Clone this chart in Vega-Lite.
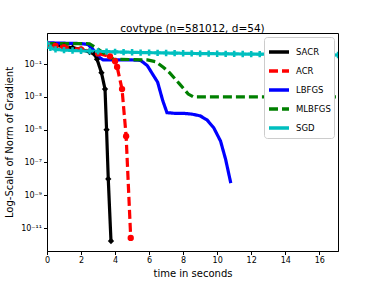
{
  "$schema": "https://vega.github.io/schema/vega-lite/v6.json",
  "width": 291,
  "height": 218,
  "autosize": "none",
  "padding": {"left": 47, "top": 33, "right": 38, "bottom": 31},
  "background": "white",
  "config": {
    "font": "DejaVu Sans",
    "view": {"stroke": "#000", "strokeWidth": 1},
    "axis": {"grid": false, "domainColor": "#000", "tickColor": "#000", "labelColor": "#000", "titleColor": "#000", "labelFontSize": 8, "titleFontSize": 10, "titleFontWeight": "normal", "tickSize": 3.5}
  },
  "title": {"text": "covtype (n=581012, d=54)", "fontSize": 10.5, "fontWeight": "normal", "color": "#000", "offset": -1},
  "data": {"values": [
    {"series": "SACR", "t": 0, "g": 1.7}, {"series": "SACR", "t": 0.5, "g": 1.4}, {"series": "SACR", "t": 1, "g": 1.2}, {"series": "SACR", "t": 1.5, "g": 1.0}, {"series": "SACR", "t": 2, "g": 0.8}, {"series": "SACR", "t": 2.5, "g": 0.55}, {"series": "SACR", "t": 2.8, "g": 0.4}, {"series": "SACR", "t": 2.94, "g": 0.2}, {"series": "SACR", "t": 3.2, "g": 0.03}, {"series": "SACR", "t": 3.41, "g": 0.003}, {"series": "SACR", "t": 3.5, "g": 1e-5}, {"series": "SACR", "t": 3.6, "g": 1e-8}, {"series": "SACR", "t": 3.76, "g": 1.6e-12},
    {"series": "ACR", "t": 0, "g": 1.6}, {"series": "ACR", "t": 0.5, "g": 1.3}, {"series": "ACR", "t": 1, "g": 1.1}, {"series": "ACR", "t": 2, "g": 0.8}, {"series": "ACR", "t": 3, "g": 0.45}, {"series": "ACR", "t": 3.7, "g": 0.3}, {"series": "ACR", "t": 4.0, "g": 0.15}, {"series": "ACR", "t": 4.12, "g": 0.068}, {"series": "ACR", "t": 4.41, "g": 0.003}, {"series": "ACR", "t": 4.65, "g": 4e-6}, {"series": "ACR", "t": 4.92, "g": 2.5e-12},
    {"series": "LBFGS", "t": 0, "g": 2.0}, {"series": "LBFGS", "t": 1, "g": 1.9}, {"series": "LBFGS", "t": 2, "g": 1.8}, {"series": "LBFGS", "t": 2.4, "g": 1.6}, {"series": "LBFGS", "t": 2.7, "g": 0.8}, {"series": "LBFGS", "t": 3.0, "g": 0.3}, {"series": "LBFGS", "t": 3.3, "g": 0.18}, {"series": "LBFGS", "t": 4, "g": 0.18}, {"series": "LBFGS", "t": 5, "g": 0.18}, {"series": "LBFGS", "t": 5.5, "g": 0.17}, {"series": "LBFGS", "t": 5.9, "g": 0.08}, {"series": "LBFGS", "t": 6.2, "g": 0.025}, {"series": "LBFGS", "t": 6.5, "g": 0.008}, {"series": "LBFGS", "t": 6.8, "g": 0.0006}, {"series": "LBFGS", "t": 7.05, "g": 1.1e-4}, {"series": "LBFGS", "t": 7.5, "g": 1e-4}, {"series": "LBFGS", "t": 8, "g": 1e-4}, {"series": "LBFGS", "t": 8.5, "g": 9e-5}, {"series": "LBFGS", "t": 9.0, "g": 7e-5}, {"series": "LBFGS", "t": 9.4, "g": 4e-5}, {"series": "LBFGS", "t": 9.8, "g": 1.3e-5}, {"series": "LBFGS", "t": 10.2, "g": 2e-6}, {"series": "LBFGS", "t": 10.5, "g": 1.5e-7}, {"series": "LBFGS", "t": 10.8, "g": 5.5e-9},
    {"series": "MLBFGS", "t": 0, "g": 1.8}, {"series": "MLBFGS", "t": 1, "g": 1.8}, {"series": "MLBFGS", "t": 2, "g": 1.8}, {"series": "MLBFGS", "t": 2.5, "g": 1.75}, {"series": "MLBFGS", "t": 3.1, "g": 0.7}, {"series": "MLBFGS", "t": 3.5, "g": 0.35}, {"series": "MLBFGS", "t": 3.9, "g": 0.2}, {"series": "MLBFGS", "t": 5, "g": 0.19}, {"series": "MLBFGS", "t": 5.9, "g": 0.18}, {"series": "MLBFGS", "t": 6.4, "g": 0.14}, {"series": "MLBFGS", "t": 6.85, "g": 0.063}, {"series": "MLBFGS", "t": 7.2, "g": 0.03}, {"series": "MLBFGS", "t": 7.8, "g": 0.006}, {"series": "MLBFGS", "t": 8.3, "g": 0.0015}, {"series": "MLBFGS", "t": 8.6, "g": 0.001}, {"series": "MLBFGS", "t": 10, "g": 0.001}, {"series": "MLBFGS", "t": 13, "g": 0.001}, {"series": "MLBFGS", "t": 17.1, "g": 0.001},
    {"series": "SGD", "t": 0, "g": 1.8}, {"series": "SGD", "t": 0.2, "g": 1.0}, {"series": "SGD", "t": 0.5, "g": 0.8}, {"series": "SGD", "t": 1, "g": 0.72}, {"series": "SGD", "t": 1.5, "g": 0.68}, {"series": "SGD", "t": 2, "g": 0.65}, {"series": "SGD", "t": 2.5, "g": 0.62}, {"series": "SGD", "t": 3, "g": 0.6}, {"series": "SGD", "t": 3.5, "g": 0.58}, {"series": "SGD", "t": 4, "g": 0.56}, {"series": "SGD", "t": 4.5, "g": 0.54}, {"series": "SGD", "t": 5, "g": 0.53}, {"series": "SGD", "t": 5.5, "g": 0.51}, {"series": "SGD", "t": 6, "g": 0.5}, {"series": "SGD", "t": 6.5, "g": 0.49}, {"series": "SGD", "t": 7, "g": 0.48}, {"series": "SGD", "t": 7.5, "g": 0.47}, {"series": "SGD", "t": 8, "g": 0.46}, {"series": "SGD", "t": 8.5, "g": 0.45}, {"series": "SGD", "t": 9, "g": 0.44}, {"series": "SGD", "t": 9.5, "g": 0.435}, {"series": "SGD", "t": 10, "g": 0.43}, {"series": "SGD", "t": 10.5, "g": 0.425}, {"series": "SGD", "t": 11, "g": 0.42}, {"series": "SGD", "t": 11.5, "g": 0.415}, {"series": "SGD", "t": 12, "g": 0.41}, {"series": "SGD", "t": 12.5, "g": 0.405}, {"series": "SGD", "t": 13, "g": 0.4}, {"series": "SGD", "t": 13.5, "g": 0.395}, {"series": "SGD", "t": 14, "g": 0.39}, {"series": "SGD", "t": 14.5, "g": 0.385}, {"series": "SGD", "t": 15, "g": 0.38}, {"series": "SGD", "t": 15.5, "g": 0.375}, {"series": "SGD", "t": 16, "g": 0.37}, {"series": "SGD", "t": 16.5, "g": 0.365}, {"series": "SGD", "t": 17.1, "g": 0.36}
  ]},
  "encoding": {
    "x": {"field": "t", "type": "quantitative", "title": "time in seconds",
      "scale": {"domain": [0, 17.1], "nice": false, "zero": false},
      "axis": {"values": [0, 2, 4, 6, 8, 10, 12, 14, 16], "labelFlush": false, "titlePadding": 4}},
    "y": {"field": "g", "type": "quantitative", "title": "Log-Scale of Norm of Gradient",
      "scale": {"type": "log", "domain": [3.98e-13, 7.94], "nice": false},
      "axis": {"values": [1e-11, 1e-9, 1e-7, 1e-5, 1e-3, 1e-1],
        "labelExpr": "datum.value < 1e-10 ? '10⁻¹¹' : datum.value < 1e-8 ? '10⁻⁹' : datum.value < 1e-6 ? '10⁻⁷' : datum.value < 1e-4 ? '10⁻⁵' : datum.value < 1e-2 ? '10⁻³' : '10⁻¹'",
        "labelFlush": false, "titlePadding": 6}},
    "color": {"field": "series", "type": "nominal", "title": null,
      "scale": {"domain": ["SACR", "ACR", "LBFGS", "MLBFGS", "SGD"], "range": ["#000000", "#ff0000", "#0000ff", "#008000", "#00bfbf"]},
      "legend": {"orient": "top-right", "offset": 4, "symbolType": "M-1,0L1,0", "symbolSize": 400, "symbolStrokeWidth": 3.5,
        "fillColor": "white", "strokeColor": "#cccccc", "cornerRadius": 3, "padding": 3, "rowPadding": -0.5,
        "labelFontSize": 8.5, "labelColor": "#000", "labelOffset": 5}}
  },
  "layer": [
    {
      "mark": {"type": "line", "strokeWidth": 3.2, "clip": true},
      "encoding": {
        "strokeDash": {"field": "series", "type": "nominal", "title": null, "legend": null,
          "scale": {"domain": ["SACR", "ACR", "LBFGS", "MLBFGS", "SGD"], "range": [[1, 0], [9, 4], [1, 0], [9, 4], [1, 0]]}}
      }
    },
    {
      "transform": [{"filter": "datum.series == 'SACR' || datum.series == 'ACR' || datum.series == 'SGD'"}],
      "mark": {"type": "point", "filled": true, "opacity": 1, "clip": true},
      "encoding": {
        "shape": {"field": "series", "type": "nominal", "legend": null,
          "scale": {"domain": ["SACR", "ACR", "SGD"], "range": ["diamond", "circle", "cross"]}},
        "size": {"field": "series", "type": "nominal", "legend": null,
          "scale": {"domain": ["SACR", "ACR", "SGD"], "range": [40, 40, 22]}}
      }
    }
  ],
  "resolve": {"scale": {"shape": "independent", "size": "independent"}}
}
